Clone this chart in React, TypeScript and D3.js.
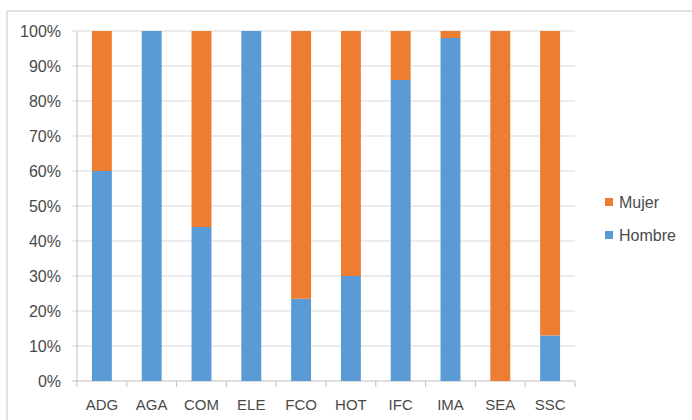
import React from "react";
import * as d3 from "d3";

const categories = ["ADG", "AGA", "COM", "ELE", "FCO", "HOT", "IFC", "IMA", "SEA", "SSC"];
const hombre = [60, 100, 44, 100, 23.5, 30, 86, 98, 0, 13];
const mujer = hombre.map((h) => 100 - h);
const yTicks = [0, 10, 20, 30, 40, 50, 60, 70, 80, 90, 100];
const seriesNames = ["Mujer", "Hombre"];

const W = 692;
const H = 420;
const margin = { left: 77, right: 117, top: 31, bottom: 39 };
const FONT = "'Liberation Sans', Arial, sans-serif";
const TEXT = "#4a4a4a";
const GRID = "#d9d9d9";
const ORANGE = "#ED7D31";
const BLUE = "#5B9BD5";

export default function App() {
  const x = d3
    .scaleBand<string>()
    .domain(categories)
    .range([margin.left, W - margin.right])
    .paddingInner(0.6)
    .paddingOuter(0.3);
  const y = d3.scaleLinear().domain([0, 100]).range([H - margin.bottom, margin.top]);
  const step = x.step();
  const x0 = margin.left;
  const x1 = W - margin.right;
  const y0 = y(0);

  return (
    <svg width={W} height={H} style={{ position: "absolute", left: 0, top: 0, background: "#fff" }}>
      <rect x={0} y={0} width={W} height={H} fill="#fff" />
      <line x1={7} y1={11} x2={W} y2={11} stroke={GRID} strokeWidth={1.5} />
      <line x1={7} y1={11} x2={7} y2={H} stroke={GRID} strokeWidth={1.5} />
      {yTicks.map((t) => (
        <g key={t}>
          <line x1={x0 - 5} x2={x1} y1={y(t)} y2={y(t)} stroke={t === 0 ? "#bfbfbf" : GRID} strokeWidth={1} />
          <text
            x={x0 - 16}
            y={y(t)}
            dy="0.36em"
            textAnchor="end"
            fontFamily={FONT}
            fontSize={16}
            fill={TEXT}
          >
            {mujer.length ? `${t}%` : ""}
          </text>
        </g>
      ))}
      <line x1={x0} x2={x0} y1={margin.top} y2={y0} stroke="#bfbfbf" strokeWidth={1} />
      {categories.map((c, i) => (
        <line
          key={"tk" + c}
          x1={x0 + step * (i + 1)}
          x2={x0 + step * (i + 1)}
          y1={y0}
          y2={y0 + 6}
          stroke="#bfbfbf"
          strokeWidth={1}
        />
      ))}
      <line x1={x0} x2={x0} y1={y0} y2={y0 + 6} stroke="#bfbfbf" strokeWidth={1} />
      {categories.map((c, i) => {
        const bx = x(c)!;
        const bw = x.bandwidth();
        return (
          <g key={c}>
            <rect x={bx} width={bw} y={y(hombre[i])} height={y0 - y(hombre[i])} fill={BLUE} />
            <rect x={bx} width={bw} y={y(100)} height={y(hombre[i]) - y(100)} fill={ORANGE} />
            <text
              x={bx + bw / 2}
              y={y0 + 29}
              textAnchor="middle"
              fontFamily={FONT}
              fontSize={15}
              fill={TEXT}
            >
              {c}
            </text>
          </g>
        );
      })}
      {seriesNames.map((s, i) => (
        <g key={s} transform={`translate(605, ${202 + i * 33})`}>
          <rect x={0} y={-4} width={8} height={8} fill={i === 0 ? ORANGE : BLUE} />
          <text x={14} y={0} dy="0.36em" fontFamily={FONT} fontSize={16} fill={TEXT}>
            {s}
          </text>
        </g>
      ))}
    </svg>
  );
}
